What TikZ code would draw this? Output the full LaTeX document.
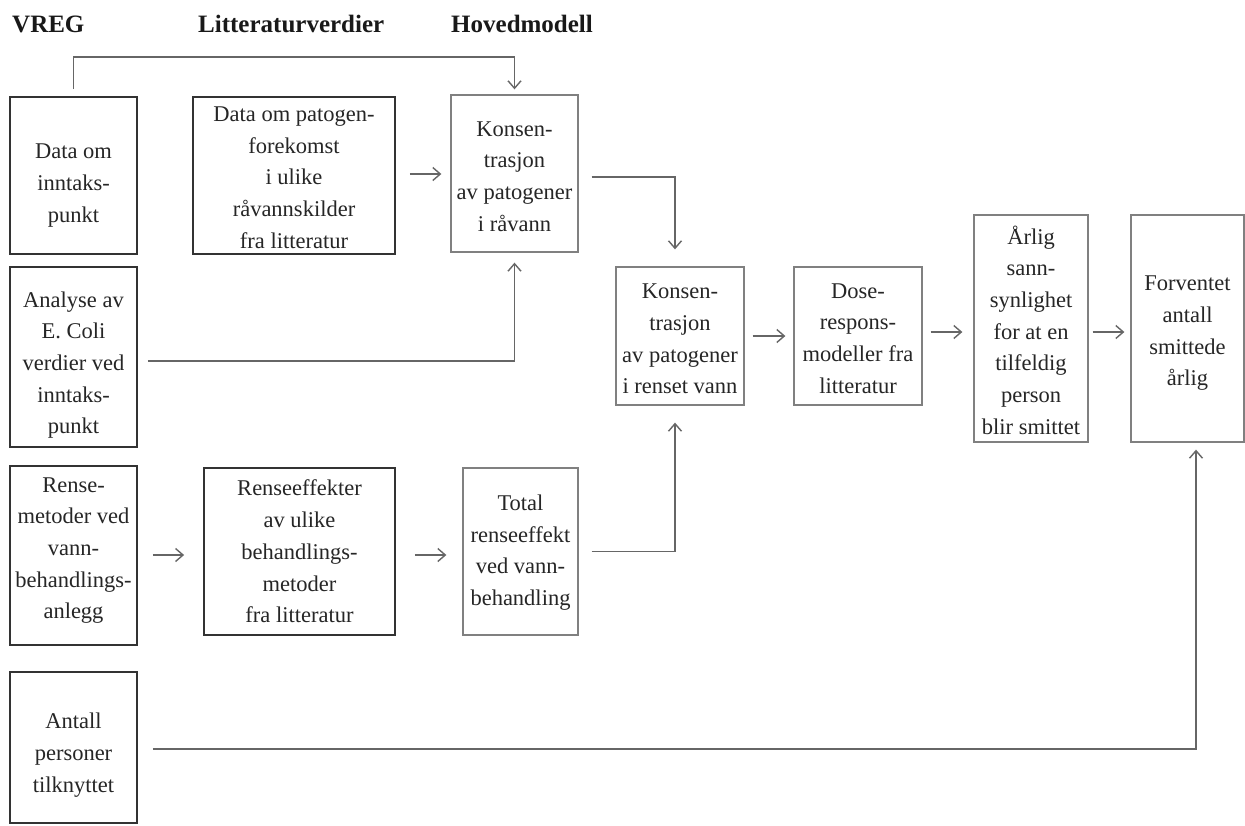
\documentclass[tikz,border=0pt]{standalone}
\usepackage{fontspec}
\setmainfont{Liberation Serif}
\usetikzlibrary{arrows.meta,calc}
\begin{document}
\begin{tikzpicture}[x=1pt,y=-1pt,
  txt/.style={font=\fontsize{22.5}{31.7}\selectfont, text=black!85, align=center, inner sep=0pt},
  darkbox/.style={draw=black!80, line width=1.8pt, inner sep=0pt},
  lightbox/.style={draw=black!50, line width=1.3pt, inner sep=0pt},
  head/.style={font=\bfseries\fontsize{25}{30}\selectfont, text=black!90, anchor=base west, inner sep=0pt},
  conn/.style={draw=black!60, line width=1.4pt, -{Straight Barb[length=7.5pt,width=13pt,line width=1.4pt]}}
]
\useasboundingbox (0,0) rectangle (1245,825);
\fill[white] (0,0) rectangle (1245,825);

% headers
\node[head] (h1) at (12,32) {VREG};
\node[head] (h2) at (198,32) {Litteraturverdier};
\node[head] (h3) at (451,32) {Hovedmodell};

% boxes
\node[darkbox, minimum width=127, minimum height=157] (A) at (73.5,175.5) {};
\node[darkbox, minimum width=202, minimum height=157] (B) at (294,175.5) {};
\node[lightbox, minimum width=127, minimum height=157] (C) at (514.5,173.5) {};
\node[darkbox, minimum width=127, minimum height=180] (D) at (73.5,357) {};
\node[darkbox, minimum width=127, minimum height=179] (E) at (73.5,555.5) {};
\node[darkbox, minimum width=191, minimum height=167] (F) at (299.5,551.5) {};
\node[lightbox, minimum width=115, minimum height=167] (G) at (520.5,551.5) {};
\node[darkbox, minimum width=127, minimum height=151] (H) at (73.5,747.5) {};
\node[lightbox, minimum width=128, minimum height=138] (I) at (680,336) {};
\node[lightbox, minimum width=128, minimum height=138] (J) at (858,336) {};
\node[lightbox, minimum width=114, minimum height=227] (K) at (1031,328.5) {};
\node[lightbox, minimum width=113, minimum height=227] (L) at (1187.5,328.5) {};

% texts
\node[txt] (At) at ([yshift=-10pt]A.center) {Data om\\inntaks-\\punkt};
\node[txt] (Bt) at ([yshift=-2pt]B.center) {Data om patogen-\\forekomst\\i ulike\\råvannskilder\\fra litteratur};
\node[txt] (Ct) at ([yshift=-3pt]C.center) {Konsen-\\trasjon\\av patogener\\i råvann};
\node[txt] (Dt) at ([yshift=-8pt]D.center) {Analyse av\\E. Coli\\verdier ved\\inntaks-\\punkt};
\node[txt] (Et) at ([yshift=5pt]E.center) {Rense-\\metoder ved\\vann-\\behandlings-\\anlegg};
\node[txt] (Ft) at (F.center) {Renseeffekter\\av ulike\\behandlings-\\metoder\\fra litteratur};
\node[txt] (Gt) at ([yshift=-1pt]G.center) {Total\\renseeffekt\\ved vann-\\behandling};
\node[txt] (Ht) at ([yshift=-7.5pt]H.center) {Antall\\personer\\tilknyttet};
\node[txt] (It) at ([yshift=-3pt]I.center) {Konsen-\\trasjon\\av patogener\\i renset vann};
\node[txt] (Jt) at ([yshift=-2.5pt]J.center) {Dose-\\respons-\\modeller fra\\litteratur};
\node[txt] (Kt) at ([yshift=-1.5pt]K.center) {Årlig\\sann-\\synlighet\\for at en\\tilfeldig\\person\\blir smittet};
\node[txt] (Lt) at ([yshift=-5pt]L.center) {Forventet\\antall\\smittede\\årlig};

% connector turning points
\coordinate (t1) at (73.5,57);
\coordinate (t2) at (514.5,57);
\coordinate (ci) at (675,177);
\coordinate (gi) at (675,551.5);
\coordinate (dc) at (514.5,361);
\coordinate (hl) at (1196,749);

% connectors
\draw[conn, shorten <=7pt, shorten >=5pt] (A.north) -- (t1) -- (t2) -- (C.north);
\draw[conn, shorten <=14pt, shorten >=9pt] (B.east |- 0,174) -- (C.west |- 0,174);
\draw[conn, shorten <=13pt, shorten >=17pt] (C.east |- ci) -- (ci) -- (ci |- I.north);
\draw[conn, shorten <=10pt, shorten >=10pt] (D.east |- dc) -- (dc) -- (C.south);
\draw[conn, shorten <=8pt, shorten >=8pt] (I.east) -- (J.west);
\draw[conn, shorten <=8pt, shorten >=11pt] (J.east |- 0,332) -- (K.west |- 0,332);
\draw[conn, shorten <=4pt, shorten >=6pt] (K.east |- 0,332) -- (L.west |- 0,332);
\draw[conn, shorten <=15pt, shorten >=19pt] (E.east |- 0,555) -- (F.west |- 0,555);
\draw[conn, shorten <=19pt, shorten >=16pt] (F.east |- 0,555) -- (G.west |- 0,555);
\draw[conn, shorten <=13pt, shorten >=17pt] (G.east |- gi) -- (gi) -- (gi |- I.south);
\draw[conn, shorten <=15pt, shorten >=7pt] (H.east |- hl) -- (hl) -- (hl |- L.south);
\end{tikzpicture}
\end{document}
